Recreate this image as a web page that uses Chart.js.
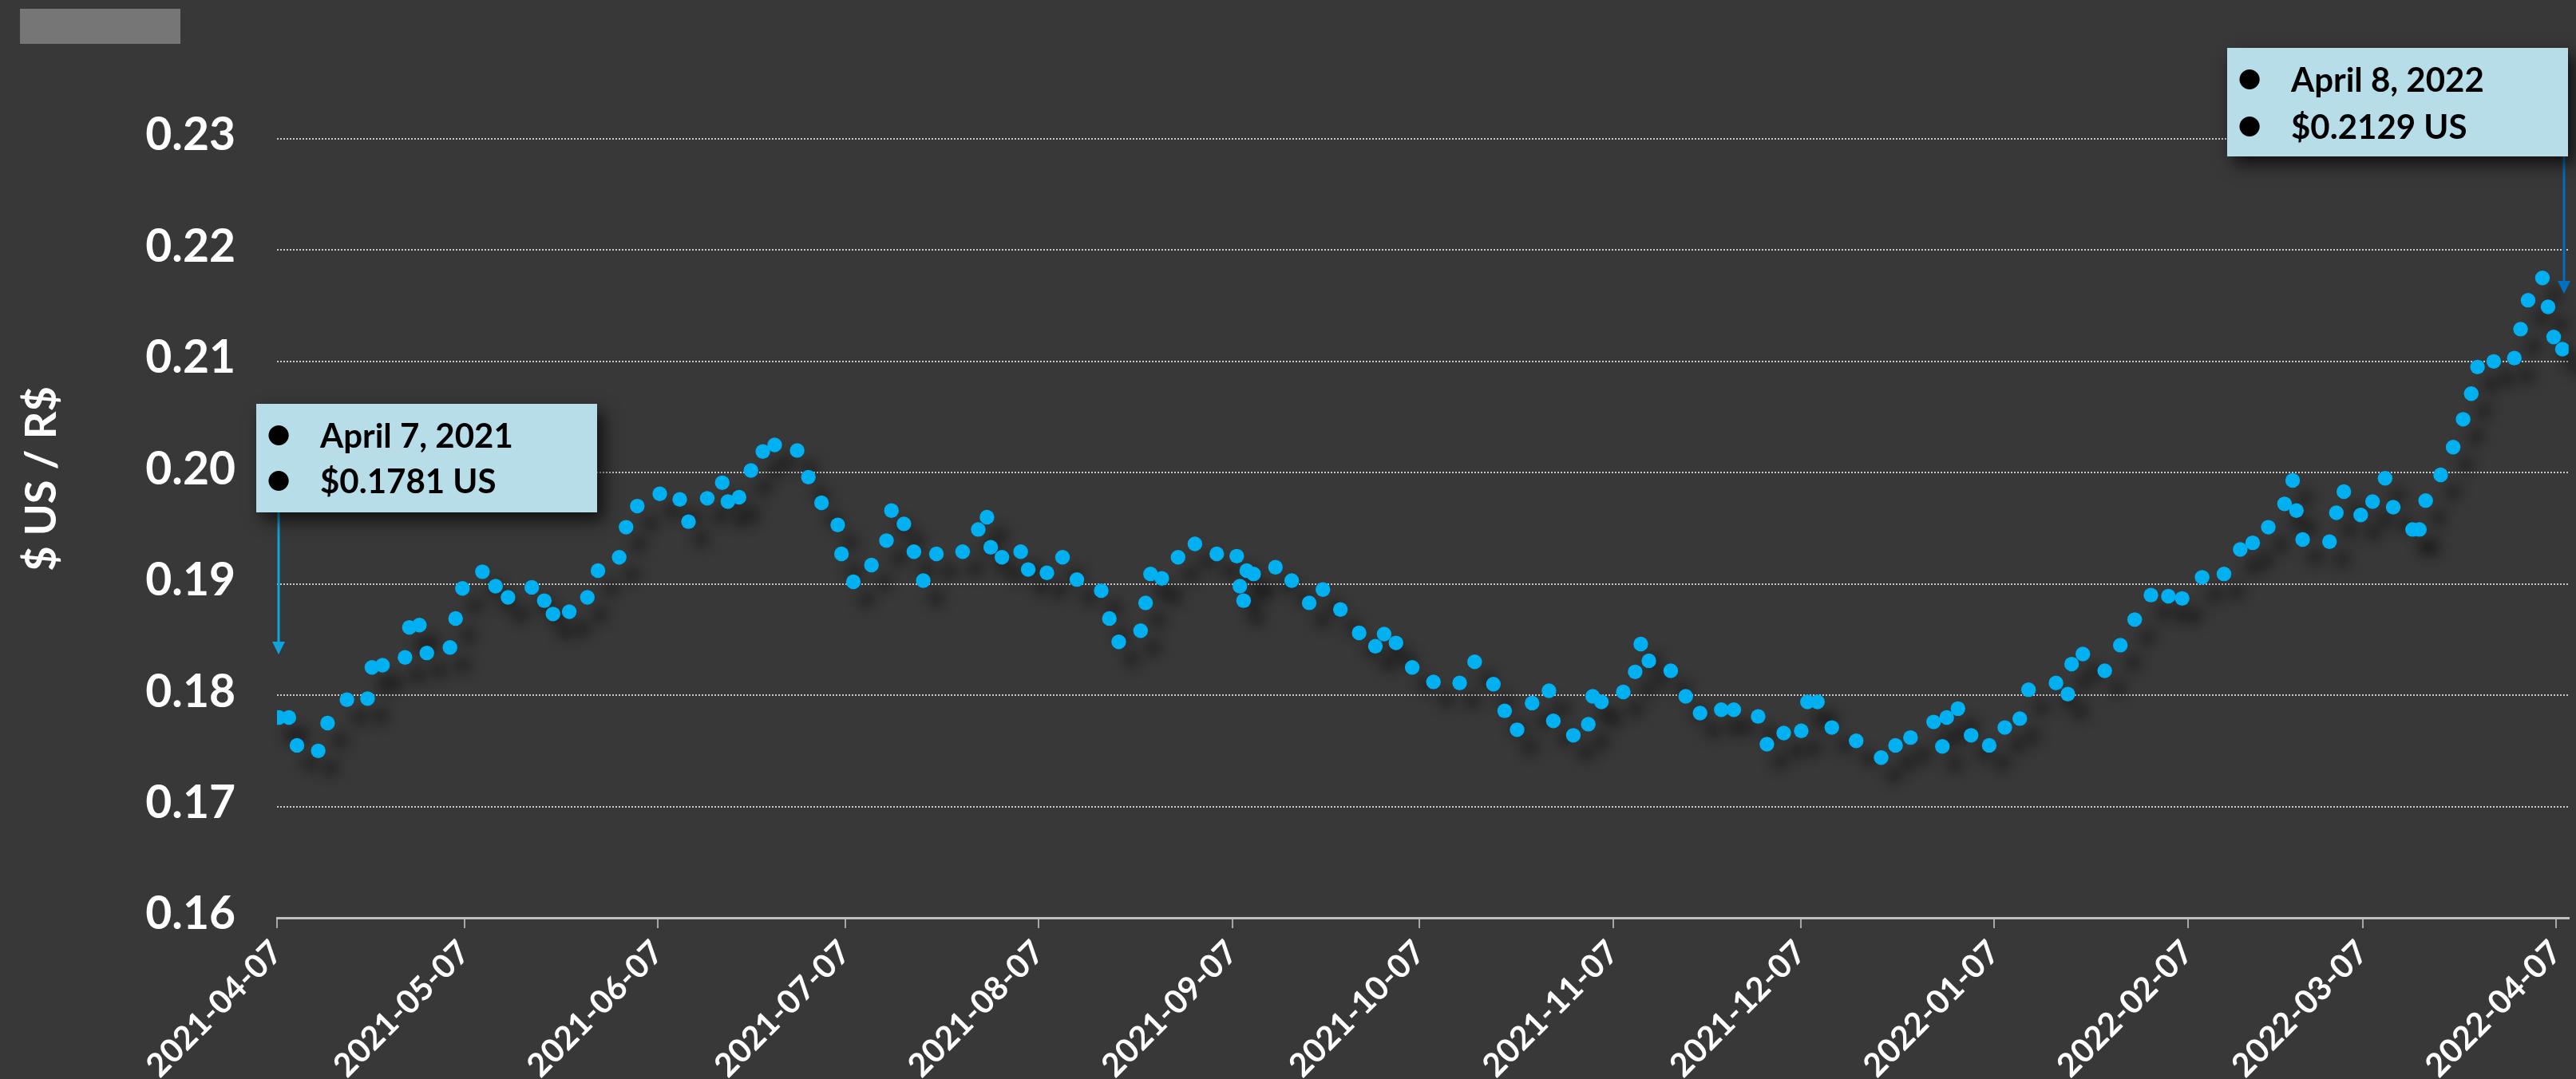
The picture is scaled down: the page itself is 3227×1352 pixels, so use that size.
<!DOCTYPE html>
<html>
<head>
<meta charset="utf-8">
<script src="https://cdn.jsdelivr.net/npm/chart.js@4.4.1/dist/chart.umd.min.js"></script>
<style>
  html, body { margin: 0; padding: 0; background: #383838; }
  #wrap { width: 3227px; height: 1352px; }
</style>
</head>
<body>
<div id="wrap"><canvas id="c" width="3227" height="1352"></canvas></div>
<script>
// ---- data ----
const startDate = '2021-04-07';
const tickLabels = ['2021-04-07','2021-05-07','2021-06-07','2021-07-07','2021-08-07','2021-09-07',
  '2021-10-07','2021-11-07','2021-12-07','2022-01-07','2022-02-07','2022-03-07','2022-04-07'];
const yTickValues = [0.16, 0.17, 0.18, 0.19, 0.20, 0.21, 0.22, 0.23];
// days since 2021-04-07
const dayOffsets = [0.3,1.9,3.2,6.6,8.1,11.2,14.5,15.2,16.9,20.5,21.2,22.8,24.0,27.7,28.6,29.7,32.9,35.0,37.0,40.8,
  42.8,44.2,46.8,49.7,51.4,54.8,55.9,57.7,61.3,64.5,65.9,68.9,71.3,72.2,74.0,75.9,77.8,79.7,83.3,85.1,
  87.2,89.8,90.4,92.3,95.2,97.6,98.4,100.4,102.0,103.5,105.6,109.8,112.3,113.7,114.3,116.1,119.1,120.3,123.3,125.8,
  128.1,132.0,133.3,134.8,138.3,139.1,139.9,141.7,144.3,147.0,150.5,153.7,154.2,154.8,155.3,156.4,159.9,162.5,165.3,167.5,
  170.3,173.3,175.9,177.3,179.2,181.8,185.2,189.4,191.8,194.8,196.6,198.6,201.0,203.7,204.4,207.6,210.0,210.7,212.1,215.6,
  217.5,218.4,219.7,223.2,225.6,227.9,231.3,233.3,237.2,238.6,241.3,244.1,245.1,246.7,249.0,252.9,256.9,259.2,261.6,265.3,
  266.7,267.4,269.2,271.3,274.2,276.7,279.1,280.5,284.9,286.8,287.4,289.2,292.7,295.2,297.5,300.1,302.9,305.1,308.3,311.8,
  314.4,316.4,318.9,321.5,322.8,323.4,324.4,328.7,329.8,331.0,333.7,335.6,337.6,338.9,342.0,343.1,344.1,346.5,348.5,350.1,
  351.4,352.4,355.0,358.3,359.3,360.5,362.8,363.7,364.6,366.0];
const rates = [0.1780,0.1780,0.1755,0.1750,0.1775,0.1796,0.1797,0.1825,0.1827,0.1834,0.1861,0.1863,0.1838,0.1843,0.1869,0.1896,0.1911,0.1898,0.1888,0.1897,
  0.1885,0.1873,0.1875,0.1888,0.1912,0.1924,0.1951,0.1970,0.1981,0.1976,0.1956,0.1977,0.1991,0.1974,0.1978,0.2002,0.2019,0.2025,0.2020,0.1996,
  0.1973,0.1953,0.1927,0.1902,0.1917,0.1939,0.1966,0.1954,0.1929,0.1903,0.1927,0.1929,0.1949,0.1960,0.1933,0.1924,0.1929,0.1913,0.1910,0.1924,
  0.1904,0.1894,0.1869,0.1848,0.1858,0.1883,0.1909,0.1905,0.1924,0.1936,0.1927,0.1925,0.1898,0.1885,0.1912,0.1909,0.1915,0.1903,0.1883,0.1895,
  0.1877,0.1856,0.1844,0.1855,0.1847,0.1825,0.1812,0.1811,0.1830,0.1810,0.1786,0.1769,0.1793,0.1804,0.1777,0.1764,0.1774,0.1799,0.1794,0.1803,
  0.1821,0.1846,0.1831,0.1822,0.1799,0.1784,0.1787,0.1787,0.1781,0.1756,0.1766,0.1768,0.1794,0.1794,0.1771,0.1759,0.1744,0.1755,0.1762,0.1776,
  0.1754,0.1780,0.1788,0.1764,0.1755,0.1771,0.1779,0.1805,0.1811,0.1801,0.1828,0.1837,0.1822,0.1845,0.1868,0.1890,0.1889,0.1887,0.1906,0.1909,
  0.1931,0.1937,0.1951,0.1972,0.1993,0.1966,0.1940,0.1938,0.1964,0.1983,0.1962,0.1974,0.1995,0.1969,0.1949,0.1949,0.1975,0.1998,0.2023,0.2048,
  0.2071,0.2095,0.2100,0.2103,0.2129,0.2155,0.2175,0.2149,0.2122,0.2111];
const yAxisTitle = '$ US / R$';
const notes = [
  { day: 0, lines: ['April 7, 2021', '$0.1781 US'] },
  { day: 366, lines: ['April 8, 2022', '$0.2129 US'] }
];

// ---- helpers ----
const DAY = 86400000;
const dayOf = s => (Date.parse(s) - Date.parse(startDate)) / DAY;
const tickDays = tickLabels.map(dayOf);
const points = dayOffsets.map((d, i) => ({ x: d, y: rates[i] }));

const FONT = 'Lato';

const bgPlugin = {
  id: 'bg',
  beforeDraw(chart) {
    const ctx = chart.ctx;
    ctx.save();
    ctx.fillStyle = '#383838';
    ctx.fillRect(0, 0, chart.width, chart.height);
    ctx.fillStyle = '#767676';
    ctx.fillRect(25, 11, 201, 44);
    ctx.restore();
  }
};

const shadowPlugin = {
  id: 'ptShadow',
  beforeDatasetsDraw(chart) {
    const ctx = chart.ctx;
    const meta = chart.getDatasetMeta(0);
    ctx.save();
    ctx.filter = 'blur(8px)';
    ctx.fillStyle = 'rgba(0,0,0,0.42)';
    meta.data.forEach(pt => {
      ctx.beginPath();
      ctx.arc(pt.x + 16, pt.y + 22, 10, 0, Math.PI * 2);
      ctx.fill();
    });
    ctx.restore();
  }
};

const annotPlugin = {
  id: 'annot',
  afterDraw(chart) {
    const ctx = chart.ctx;
    const xs = chart.scales.x;
    const boxes = [
      { x: 321, y: 506, w: 427, h: 136, base1: 561, base2: 618, arrowTip: 820, arrowColor: '#10A3DE' },
      { x: 2790, y: 60, w: 427, h: 136, base1: 115, base2: 174, arrowTip: 368, arrowColor: '#0070C0' }
    ];
    boxes.forEach((b, i) => {
      const n = notes[i];
      const ax = xs.getPixelForValue(n.day) + 2;
      // arrow
      ctx.save();
      ctx.strokeStyle = b.arrowColor;
      ctx.fillStyle = b.arrowColor;
      ctx.lineWidth = 3;
      ctx.beginPath();
      ctx.moveTo(ax, b.y + b.h);
      ctx.lineTo(ax, b.arrowTip - 12);
      ctx.stroke();
      ctx.beginPath();
      ctx.moveTo(ax - 8, b.arrowTip - 16);
      ctx.lineTo(ax + 8, b.arrowTip - 16);
      ctx.lineTo(ax, b.arrowTip);
      ctx.closePath();
      ctx.fill();
      ctx.restore();
      // box with shadow
      ctx.save();
      ctx.shadowColor = 'rgba(0,0,0,0.7)';
      ctx.shadowBlur = 20;
      ctx.shadowOffsetX = 8;
      ctx.shadowOffsetY = 10;
      ctx.fillStyle = '#B7DEE8';
      ctx.fillRect(b.x, b.y, b.w, b.h);
      ctx.restore();
      // text
      ctx.save();
      ctx.fillStyle = '#000';
      ctx.textBaseline = 'alphabetic';
      [b.base1, b.base2].forEach((base, k) => {
        ctx.font = 'bold 58px ' + FONT;
        ctx.textAlign = 'center';
        ctx.fillText('\u2022', b.x + 28, base + 2);
        ctx.font = 'bold 42px ' + FONT;
        ctx.textAlign = 'left';
        ctx.fillText(n.lines[k], b.x + 80, base);
      });
      ctx.restore();
    });
    // y-axis title
    ctx.save();
    ctx.translate(53, 600);
    ctx.rotate(-Math.PI / 2);
    ctx.fillStyle = '#FFFFFF';
    ctx.font = 'bold 54px ' + FONT;
    ctx.textAlign = 'center';
    ctx.textBaseline = 'middle';
    ctx.fillText(yAxisTitle, 0, 0);
    ctx.restore();
  }
};

new Chart(document.getElementById('c'), {
  type: 'scatter',
  data: {
    datasets: [{
      data: points,
      backgroundColor: '#00B0F0',
      borderWidth: 0,
      pointRadius: 9.2,
      pointHoverRadius: 9.2,
      clip: 0
    }]
  },
  options: {
    responsive: false,
    animation: false,
    events: [],
    layout: { padding: { top: 174, right: 6, left: 0, bottom: 0 } },
    plugins: { legend: { display: false }, tooltip: { enabled: false } },
    scales: {
      x: {
        type: 'linear',
        min: 0,
        max: 367,
        afterBuildTicks: s => { s.ticks = tickDays.map(v => ({ value: v })); },
        afterFit: s => { s.height = 202; s.paddingLeft = 0; s.paddingRight = 0; },
        grid: { drawOnChartArea: false, drawTicks: true, tickLength: 13, color: '#A6A6A6', lineWidth: 2 },
        border: { display: true, color: '#BFBFBF', width: 3 },
        ticks: {
          autoSkip: false, maxRotation: 45, minRotation: 45, color: '#FFFFFF', padding: 6,
          font: { family: FONT, weight: 'bold', size: 41 },
          callback: (v, i) => tickLabels[i]
        }
      },
      y: {
        min: 0.16,
        max: 0.23,
        afterFit: s => { s.width = 347; },
        afterBuildTicks: s => { s.ticks = yTickValues.map(v => ({ value: v })); },
        grid: { color: '#C8C8C8', lineWidth: 2, drawTicks: false },
        border: { display: false, dash: [2, 2] },
        ticks: {
          color: '#FFFFFF', padding: 52, labelOffset: -4,
          font: { family: FONT, weight: 'bold', size: 57 },
          callback: v => v.toFixed(2)
        }
      }
    }
  },
  plugins: [bgPlugin, shadowPlugin, annotPlugin]
});
</script>
</body>
</html>
